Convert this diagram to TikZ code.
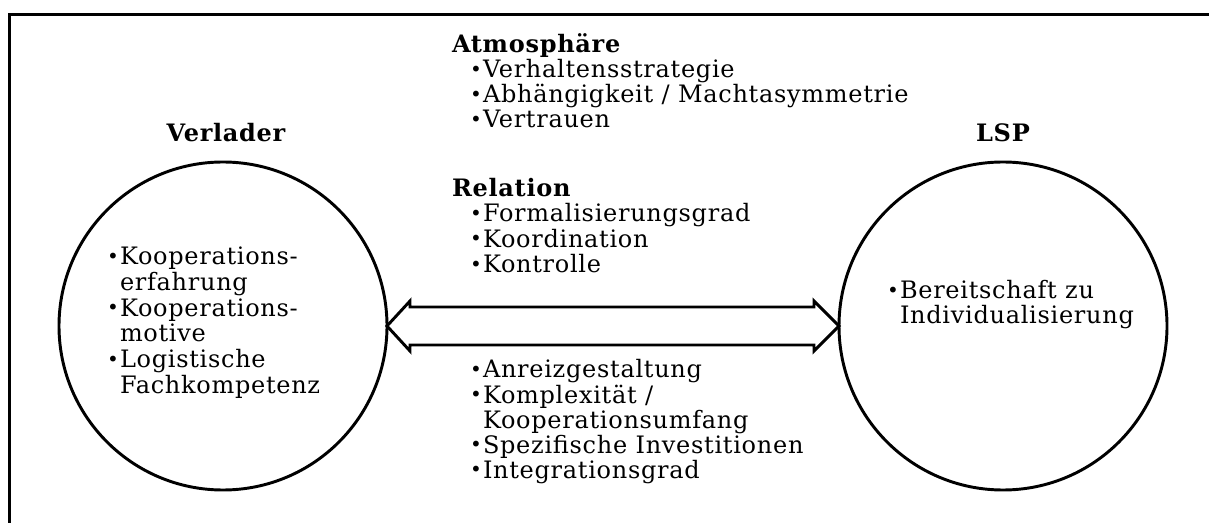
\documentclass[tikz,border=0pt]{standalone}
\usepackage{fontspec}
\setmainfont{DejaVu Serif}[LetterSpace=3]
\usetikzlibrary{calc}
\newcommand{\bul}{\makebox[9.75pt][l]{\raisebox{1.3pt}{\fontsize{15}{15}\selectfont\textbullet}}}
\newcommand{\cont}{\hspace*{9.75pt}}
\begin{document}
\begin{tikzpicture}[x=0.75pt,y=-0.75pt,
  every node/.style={inner sep=0pt,outer sep=0pt},
  txt/.style={anchor=base west,font=\fontsize{18}{21}\selectfont},
  head/.style={anchor=base west,font=\fontsize{18}{21}\selectfont\bfseries},
  title/.style={anchor=base,font=\fontsize{18}{21}\selectfont\bfseries},
  party/.style={circle,draw,line width=2.2pt,minimum size=246pt},
  frameline/.style={line width=2.3pt},
  link/.style={draw,line width=2.2pt,line join=miter}]
\useasboundingbox (0,0) rectangle (1209,523);
% outer frame (open to the right and bottom)
\draw[frameline] (9.5,523) -- (9.5,14.5) -- (1209,14.5);

% the two parties
\node[party] (L) at (223,326) {};
\node[party] (R) at (1003,326) {};
\node[title] (Ltitle) at (226,142) {Verlader};
\node[title] (Rtitle) at (1003,142) {LSP};

% double arrow between the parties
\draw[link] (L.east) -- ($(L.east)+(23,-25)$) -- ($(L.east)+(23,-19)$)
  -- ($(R.west)+(-25,-19)$) -- ($(R.west)+(-25,-25)$) -- (R.west)
  -- ($(R.west)+(-25,25)$) -- ($(R.west)+(-25,19)$)
  -- ($(L.east)+(23,19)$) -- ($(L.east)+(23,25)$) -- cycle;

% Verlader
\node[txt] (l1) at (107,265) {\bul Kooperations-};
\node[txt] (l2) at (107,290.5) {\cont erfahrung};
\node[txt] (l3) at (107,316.5) {\bul Kooperations-};
\node[txt] (l4) at (107,342) {\cont motive};
\node[txt] (l5) at (107,368) {\bul Logistische};
\node[txt] (l6) at (107,394) {\cont Fachkompetenz};

% LSP
\node[txt] (r1) at (887,299) {\bul Bereitschaft zu};
\node[txt] (r2) at (887,324) {\cont Individualisierung};

% Atmosphaere
\node[head] (atm) at (452,53) {Atmosphäre};
\node[txt] (a1) at (470,78) {\bul Verhaltensstrategie};
\node[txt] (a2) at (470,103) {\bul Abhängigkeit / Machtasymmetrie};
\node[txt] (a3) at (470,128) {\bul Vertrauen};

% Relation
\node[head] (rel) at (452,197) {Relation};
\node[txt] (b1) at (470,222) {\bul Formalisierungsgrad};
\node[txt] (b2) at (470,247.5) {\bul Koordination};
\node[txt] (b3) at (470,273) {\bul Kontrolle};

% lower factors
\node[txt] (c1) at (470,378) {\bul Anreizgestaltung};
\node[txt] (c2) at (470,403) {\bul Komplexität /};
\node[txt] (c3) at (470,428) {\cont Kooperationsumfang};
\node[txt] (c4) at (470,453) {\bul Spezifische Investitionen};
\node[txt] (c5) at (470,478) {\bul Integrationsgrad};
\end{tikzpicture}
\end{document}
